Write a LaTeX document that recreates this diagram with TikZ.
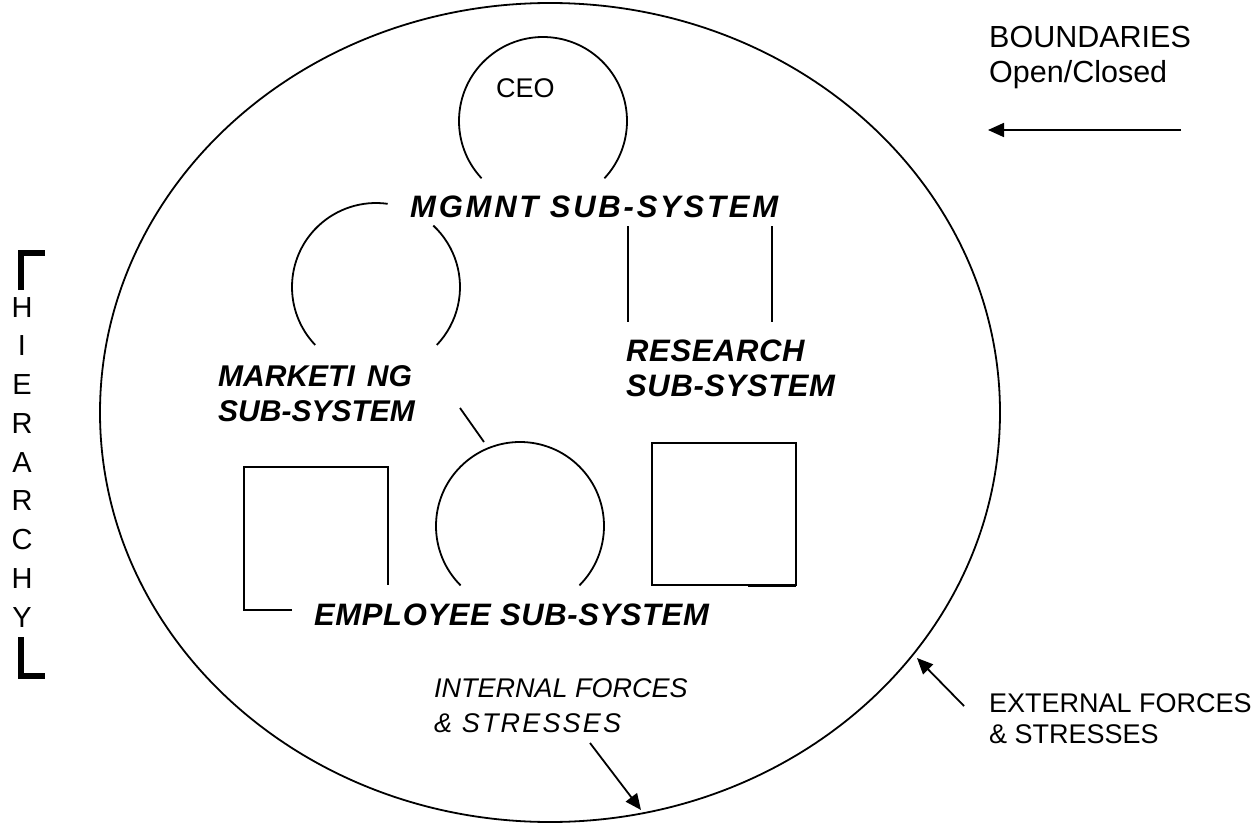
\documentclass[tikz,border=0pt]{standalone}
\usepackage{fontspec}
\setmainfont{Liberation Sans}
\newfontfamily\bifam[LetterSpace=2]{Liberation Sans}
\newfontfamily\bifamwide[LetterSpace=9]{Liberation Sans}
\newfontfamily\itwide[LetterSpace=8]{Liberation Sans}
\usetikzlibrary{arrows.meta}
\begin{document}
\begin{tikzpicture}[x=1pt,y=-1pt,
  shapeline/.style={line width=1.8pt},
  boxline/.style={line width=2pt},
  lbl/.style={inner sep=0pt, anchor=base west, font=\fontsize{27}{32}\selectfont},
  biglbl/.style={inner sep=0pt, anchor=base west, font=\fontsize{30.5}{36}\selectfont},
  ilbl/.style={inner sep=0pt, anchor=base west, font=\fontsize{27}{32}\selectfont\itshape},
  ilblwide/.style={inner sep=0pt, anchor=base west, font=\itwide\fontsize{27}{32}\selectfont\itshape},
  sub/.style={inner sep=0pt, anchor=base west, font=\bifam\fontsize{31}{36}\selectfont\bfseries\itshape},
  subwide/.style={inner sep=0pt, anchor=base west, font=\bifamwide\fontsize{31}{36}\selectfont\bfseries\itshape},
  subnarrow/.style={inner sep=0pt, anchor=base west, font=\fontsize{30}{36}\selectfont\bfseries\itshape},
  hl/.style={inner sep=0pt, anchor=base, font=\fontsize{29}{34}\selectfont},
  arr/.style={line width=1.8pt, -{Triangle[length=16pt,width=14pt]}},
  brk/.style={line width=6pt, line join=miter, line cap=butt}]
\useasboundingbox (0,0) rectangle (1259,824);

% system boundary
\draw[shapeline] (550,412.5) ellipse [x radius=450, y radius=409.5];

% CEO circle
\coordinate (ceoc) at (543,121);
\draw[shapeline] (ceoc) ++(137:84) arc[start angle=137, end angle=403, radius=84];
\node[lbl] (ceo) at (496,98) {CEO};

% marketing circle
\coordinate (mkc) at (376,287);
\draw[shapeline] (mkc) ++(136.4:84) arc[start angle=136.4, end angle=278, radius=84];
\draw[shapeline] (mkc) ++(313:84) arc[start angle=313, end angle=403.6, radius=84];

% research lines
\coordinate (r1a) at (628,226); \coordinate (r1b) at (628,322);
\coordinate (r2a) at (772,226); \coordinate (r2b) at (772,322);
\draw[boxline] (r1a) -- (r1b);
\draw[boxline] (r2a) -- (r2b);

% employee circle
\coordinate (emc) at (520,526);
\draw[shapeline] (emc) ++(135:84) arc[start angle=135, end angle=405, radius=84];

% link marketing -> employee
\coordinate (lk1) at (460,408); \coordinate (lk2) at (484,442);
\draw[shapeline] (lk1) -- (lk2);

% left box
\coordinate (lb1) at (292,610); \coordinate (lb2) at (244,610);
\coordinate (lb3) at (244,467); \coordinate (lb4) at (388,467);
\coordinate (lb5) at (388,585);
\draw[boxline, line join=miter] (lb1) -- (lb2) -- (lb3) -- (lb4) -- (lb5);

% right box
\coordinate (rb1) at (652,443); \coordinate (rb2) at (796,585);
\draw[boxline] (rb1) rectangle (rb2);
\coordinate (rb3) at (748,585.5);
\draw[line width=3pt] (rb3) -- (rb2 |- rb3);

% sub-system labels
\node[subwide] (mg) at (410,218) {MGMNT SUB-SYSTEM};
\node[subnarrow] (mk1) at (218,386) {MARKETI\kern12pt NG};
\node[subnarrow] (mk2) at (218,421) {SUB-SYSTEM};
\node[sub] (rs1) at (626,361) {RESEARCH};
\node[sub] (rs2) at (626,396) {SUB-SYSTEM};
\node[sub] (em) at (314,625) {EMPLOYEE SUB-SYSTEM};

% forces
\node[ilbl] (in1) at (434,697) {INTERNAL FORCES};
\node[ilblwide] (in2) at (434,732) {\& STRESSES};
\coordinate (int) at (590,743); \coordinate (inh) at (641,810);
\draw[arr] (int) -- (inh);

\node[lbl] (ex1) at (989,712) {EXTERNAL FORCES};
\node[lbl] (ex2) at (989,743) {\& STRESSES};
\coordinate (ext) at (964,706); \coordinate (exh) at (917,658);
\draw[arr] (ext) -- (exh);

% boundaries
\node[biglbl] (bd1) at (989,48) {BOUNDARIES};
\node[biglbl] (bd2) at (989,83) {Open/Closed};
\coordinate (bdt) at (1181,130); \coordinate (bdh) at (988,130);
\draw[arr] (bdt) -- (bdh);

% hierarchy
\coordinate (ht1) at (21,290); \coordinate (ht2) at (21,253); \coordinate (ht3) at (45,253);
\draw[brk] (ht1) -- (ht2) -- (ht3);
\foreach \ch [count=\i from 0] in {H,I,E,R,A,R,C,H,Y}
  \node[hl] (h\i) at (22,317+38.75*\i) {\ch};
\coordinate (hb1) at (21,637); \coordinate (hb2) at (21,676); \coordinate (hb3) at (45,676);
\draw[brk] (hb1) -- (hb2) -- (hb3);
\end{tikzpicture}
\end{document}
